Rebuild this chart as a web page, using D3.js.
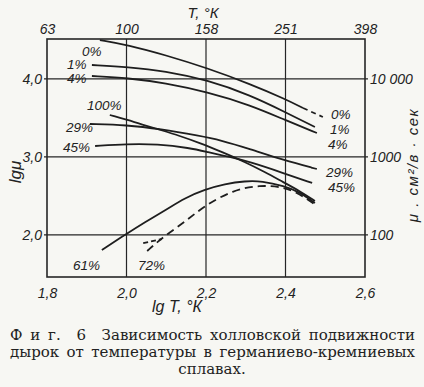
<!DOCTYPE html>
<html>
<head>
<meta charset="utf-8">
<script src="https://cdn.jsdelivr.net/npm/d3@7"></script>
<style>
  body { margin: 0; background: #f7f7f3; }
  svg { display: block; }
  .lbl { font-family: "Liberation Sans", Arial, sans-serif; font-style: italic; fill: #222; }
  .cap { font-family: "DejaVu Serif", "Liberation Serif", serif; fill: #222; font-size: 15px; }
</style>
</head>
<body>
<div id="chart"></div>
<script>
// lg T ticks (bottom) and T labels (top)
const xTicks = [1.8, 2.0, 2.2, 2.4, 2.6];
const topLabels = ["63", "100", "158", "251", "398"];
// lg mu ticks (left) and mu labels (right)
const yTicks = [2.0, 3.0, 4.0];
const rightLabels = ["100", "1000", "10 000"];

// curves: [lg T, lg mu]
const c0 = [[1.933, 4.497], [2.004, 4.433], [2.097, 4.305], [2.203, 4.138], [2.311, 3.933], [2.399, 3.741], [2.444, 3.626]];
const c0dash = [[2.444, 3.626], [2.494, 3.51]];
const c1 = [[1.913, 4.177], [2.004, 4.151], [2.097, 4.10], [2.203, 3.985], [2.311, 3.792], [2.399, 3.574], [2.474, 3.382]];
const c4 = [[1.913, 4.036], [2.004, 4.01], [2.097, 3.946], [2.203, 3.831], [2.311, 3.664], [2.399, 3.472], [2.479, 3.305]];
const c29 = [[1.908, 3.421], [2.001, 3.408], [2.084, 3.357], [2.185, 3.267], [2.235, 3.216], [2.311, 3.10], [2.394, 2.959], [2.479, 2.844]];
const c45 = [[1.921, 3.139], [2.001, 3.164], [2.077, 3.164], [2.16, 3.113], [2.203, 3.062], [2.26, 2.998], [2.311, 2.934], [2.394, 2.793], [2.467, 2.665]];
const c100 = [[1.958, 3.536], [2.021, 3.446], [2.077, 3.357], [2.135, 3.267], [2.185, 3.177], [2.24, 3.062], [2.298, 2.934], [2.348, 2.806], [2.394, 2.677], [2.436, 2.562], [2.474, 2.434]];
const c61 = [[1.938, 1.806], [1.996, 2.0], [2.047, 2.165], [2.102, 2.33], [2.147, 2.472], [2.195, 2.578], [2.248, 2.652], [2.298, 2.69], [2.341, 2.69], [2.396, 2.626], [2.436, 2.549], [2.474, 2.408]];
const c72 = [[2.052, 1.793], [2.092, 1.973], [2.147, 2.165], [2.195, 2.37], [2.268, 2.575], [2.336, 2.639], [2.396, 2.613], [2.436, 2.524], [2.472, 2.396]];
const c72b = [[2.042, 1.895], [2.089, 1.946]];

const width = 424, height = 387;
const x = d3.scaleLinear().domain([1.8, 2.6]).range([47, 365]);
const y = d3.scaleLinear().domain([1.46, 4.51]).range([277, 39]);

const svg = d3.select("#chart").append("svg")
    .attr("width", width)
    .attr("height", height);

const ink = "#262626";

// grid
svg.append("g").selectAll("line")
    .data(xTicks.slice(1, -1)).enter().append("line")
    .attr("x1", d => x(d)).attr("x2", d => x(d))
    .attr("y1", y(4.51)).attr("y2", y(1.46))
    .attr("stroke", ink).attr("stroke-width", 1.2);
svg.append("g").selectAll("line")
    .data(yTicks).enter().append("line")
    .attr("x1", x(1.8) - 3).attr("x2", x(2.6) + 3)
    .attr("y1", d => y(d)).attr("y2", d => y(d))
    .attr("stroke", ink).attr("stroke-width", 1.2);

// frame
svg.append("rect")
    .attr("x", x(1.8)).attr("y", y(4.51))
    .attr("width", x(2.6) - x(1.8)).attr("height", y(1.46) - y(4.51))
    .attr("fill", "none").attr("stroke", ink).attr("stroke-width", 1.6);

// axes (labels only)
const fmt = d => d3.format(".1f")(d).replace(".", ",");
const axStyle = g => {
    g.select(".domain").remove();
    g.selectAll(".tick line").remove();
    g.selectAll("text").attr("class", "lbl").attr("font-size", 14).attr("fill", ink);
};
svg.append("g").attr("transform", `translate(0,${y(1.46) + 8})`)
    .call(d3.axisBottom(x).tickValues(xTicks).tickFormat(fmt).tickSize(0))
    .call(axStyle);
svg.append("g").attr("transform", `translate(0,${y(4.51) - 2})`)
    .call(d3.axisTop(x).tickValues(xTicks).tickFormat((d, i) => topLabels[i]).tickSize(0))
    .call(axStyle);
svg.append("g").attr("transform", `translate(${x(1.8) - 2},0)`)
    .call(d3.axisLeft(y).tickValues(yTicks).tickFormat(fmt).tickSize(0))
    .call(axStyle);
svg.append("g").attr("transform", `translate(${x(2.6) + 2},0)`)
    .call(d3.axisRight(y).tickValues(yTicks).tickFormat((d, i) => rightLabels[i]).tickSize(0))
    .call(axStyle);

// axis titles
svg.append("text").attr("class", "lbl").attr("font-size", 15)
    .attr("x", 203).attr("y", 18).attr("text-anchor", "middle").text("T, °К");
svg.append("text").attr("class", "lbl").attr("font-size", 16)
    .attr("x", 177).attr("y", 312).attr("text-anchor", "middle").text("lg T, °К");
svg.append("text").attr("class", "lbl").attr("font-size", 17)
    .attr("transform", "translate(21,172) rotate(-90)").attr("text-anchor", "middle").text("lgμ");
svg.append("text").attr("class", "lbl").attr("font-size", 15)
    .attr("transform", "translate(418,165) rotate(-90)").attr("text-anchor", "middle")
    .attr("letter-spacing", 1.5).text("μ . см²/в · сек");

// curves
const line = d3.line().x(d => x(d[0])).y(d => y(d[1])).curve(d3.curveBasis);
const curves = [
    { pts: c0, dash: null },
    { pts: c0dash, dash: "5,4" },
    { pts: c1, dash: null },
    { pts: c4, dash: null },
    { pts: c29, dash: null },
    { pts: c45, dash: null },
    { pts: c100, dash: null },
    { pts: c61, dash: null },
    { pts: c72, dash: "8,5" },
    { pts: c72b, dash: "5,3" }
];
svg.append("g").selectAll("path")
    .data(curves).enter().append("path")
    .attr("d", d => line(d.pts))
    .attr("fill", "none")
    .attr("stroke", "#1e1e1e")
    .attr("stroke-width", 1.8)
    .attr("stroke-dasharray", d => d.dash);

// curve labels
const labels = [
    ["0%", 82, 56], ["1%", 67, 69], ["4%", 67, 83], ["100%", 87, 110], ["29%", 66, 132], ["45%", 63, 152],
    ["61%", 73, 270], ["72%", 138, 270],
    ["0%", 331, 119], ["1%", 330, 134], ["4%", 328, 149], ["29%", 326, 177], ["45%", 328, 192]
];
svg.append("g").selectAll("text")
    .data(labels).enter().append("text")
    .attr("class", "lbl").attr("font-size", 13.5)
    .attr("x", d => d[1]).attr("y", d => d[2])
    .text(d => d[0]);

// caption, first two lines justified by word spacing
const cap = [
    ["Ф и г.  6  Зависимость холловской подвижности", 340, true],
    ["дырок от температуры в германиево-кремниевых", 357, true],
    ["сплавах.", 374, false]
];
cap.forEach(c => {
    const t = svg.append("text").attr("class", "cap").attr("y", c[1])
        .attr("xml:space", "preserve").style("white-space", "pre").text(c[0]);
    if (c[2]) {
        t.attr("x", 10);
        const w = t.node().getComputedTextLength();
        const n = (c[0].match(/ /g) || []).length;
        t.attr("word-spacing", (405 - w) / n);
    } else {
        t.attr("x", 212).attr("text-anchor", "middle");
    }
});
</script>
</body>
</html>
